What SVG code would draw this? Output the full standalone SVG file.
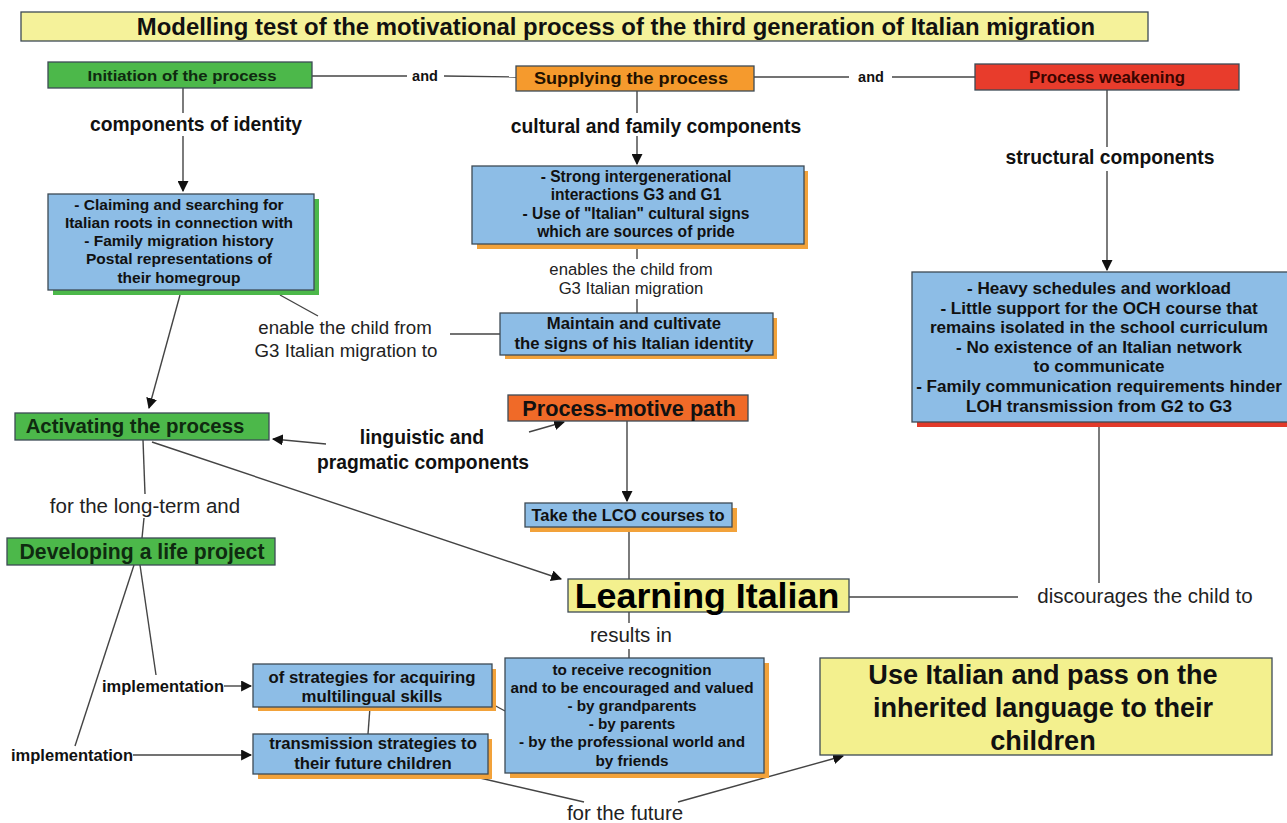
<svg xmlns="http://www.w3.org/2000/svg" width="1287" height="823" viewBox="0 0 1287 823">
<defs>
<marker id="ah" viewBox="0 0 10 10" refX="9" refY="5" markerWidth="11" markerHeight="11" markerUnits="userSpaceOnUse" orient="auto">
<path d="M0,0 L10,5 L0,10 z" fill="#111"/>
</marker>
<style>
text{font-family:"Liberation Sans",Arial,sans-serif;text-anchor:middle;fill:#111}
.b{font-weight:bold}
.box{stroke:#3d4a55;stroke-width:1.3}
.blue{fill:#8dbde6}
.green{fill:#4cb84a}
.yellow{fill:#f3f08e}
.shO{fill:#f2a23a}
.shG{fill:#4cb84a}
.shR{fill:#e23a2a}
.lbl{font-size:20.5px;fill:#222}
.blbl{font-size:19.3px;font-weight:bold}
.gt{font-weight:bold;fill:#0f2a10}
.conn line{stroke:#444;stroke-width:1.4;fill:none}
.arr{marker-end:url(#ah)}
</style>
</defs>
<rect width="1287" height="823" fill="#fff"/>

<g id="title">
<rect x="21" y="12" width="1127" height="29" fill="#f5f29a" class="box"/>
<text x="616" y="35" class="b" font-size="23.9">Modelling test of the motivational process of the third generation of Italian migration</text>
</g>

<g class="conn" id="connectors">
<line x1="312" y1="76" x2="407" y2="76"/>
<line x1="444" y1="76" x2="516" y2="77"/>
<line x1="754" y1="77" x2="849" y2="77"/>
<line x1="892" y1="77" x2="975" y2="77"/>
<line x1="183" y1="88" x2="183" y2="113"/>
<line x1="183" y1="136" x2="183" y2="191" class="arr"/>
<line x1="637" y1="91" x2="637" y2="113"/>
<line x1="637" y1="136" x2="637" y2="164" class="arr"/>
<line x1="1107" y1="90" x2="1107" y2="147"/>
<line x1="1107" y1="171" x2="1107" y2="270" class="arr"/>
<line x1="637" y1="244" x2="637" y2="259"/>
<line x1="637" y1="299" x2="637" y2="313"/>
<line x1="280" y1="295" x2="318" y2="316"/>
<line x1="450" y1="334" x2="500" y2="334"/>
<line x1="180" y1="295" x2="149" y2="408" class="arr"/>
<line x1="326" y1="444" x2="273" y2="439" class="arr"/>
<line x1="529" y1="432" x2="564" y2="422" class="arr"/>
<line x1="627" y1="421" x2="627" y2="501" class="arr"/>
<line x1="629" y1="526" x2="629" y2="579"/>
<line x1="152" y1="442" x2="561" y2="579" class="arr"/>
<line x1="143" y1="440" x2="145" y2="494"/>
<line x1="144" y1="518" x2="142" y2="538"/>
<line x1="1099" y1="427" x2="1099" y2="583"/>
<line x1="849" y1="597" x2="1018" y2="597"/>
<line x1="629" y1="612" x2="629" y2="623"/>
<line x1="629" y1="649" x2="629" y2="658"/>
<line x1="134" y1="565" x2="75" y2="746"/>
<line x1="140" y1="565" x2="156" y2="675"/>
<line x1="224" y1="686" x2="251" y2="686" class="arr"/>
<line x1="133" y1="755" x2="251" y2="755" class="arr"/>
<line x1="370" y1="707" x2="368" y2="734"/>
<line x1="492" y1="704" x2="505" y2="711"/>
<line x1="480" y1="778" x2="584" y2="802"/>
<line x1="678" y1="802" x2="843" y2="756" class="arr"/>
</g>

<g id="and1"><text x="425" y="81" class="b" font-size="14.5">and</text></g>
<g id="and2"><text x="871" y="82" class="b" font-size="14.5">and</text></g>

<g id="initiation">
<rect x="48" y="62" width="264" height="26" class="box green"/>
<text x="182" y="81" font-size="15.5" class="gt" textLength="189" lengthAdjust="spacingAndGlyphs">Initiation of the process</text>
</g>
<g id="supplying">
<rect x="516" y="66" width="238" height="25" class="box" fill="#f59a2d"/>
<text x="631" y="84" font-size="16" class="b" style="fill:#221100" textLength="194" lengthAdjust="spacingAndGlyphs">Supplying the process</text>
</g>
<g id="weakening">
<rect x="975" y="64" width="264" height="26" class="box" fill="#e83c2c"/>
<text x="1107" y="83" font-size="16" class="b" style="fill:#3a0500" textLength="156" lengthAdjust="spacingAndGlyphs">Process weakening</text>
</g>

<g id="lbl-identity"><text x="196" y="131" class="blbl">components of identity</text></g>
<g id="lbl-cultural"><text x="656" y="133" class="blbl">cultural and family components</text></g>
<g id="lbl-structural"><text x="1110" y="164" class="blbl">structural components</text></g>

<g id="claiming">
<rect x="53" y="199" width="266" height="96" class="shG"/>
<rect x="48" y="194" width="266" height="96" class="box blue"/>
<text class="b" font-size="15.5"><tspan x="179" y="210">- Claiming and searching for</tspan><tspan x="179" y="228">Italian roots in connection with</tspan><tspan x="179" y="246">- Family migration history</tspan><tspan x="179" y="264">Postal representations of</tspan><tspan x="179" y="283">their homegroup</tspan></text>
</g>

<g id="strong">
<rect x="477" y="171" width="331" height="78" class="shO"/>
<rect x="472" y="166" width="332" height="78" class="box blue"/>
<text class="b" font-size="15.6"><tspan x="636" y="182">- Strong intergenerational</tspan><tspan x="636" y="200">interactions G3 and G1</tspan><tspan x="636" y="219">- Use of "Italian" cultural signs</tspan><tspan x="636" y="237">which are sources of pride</tspan></text>
</g>

<g id="lbl-enables"><text class="lbl" style="font-size:16.7px"><tspan x="631" y="275">enables the child from</tspan><tspan x="631" y="294">G3 Italian migration</tspan></text></g>

<g id="maintain">
<rect x="505" y="318" width="272" height="41" class="shO"/>
<rect x="500" y="313" width="273" height="42" class="box blue"/>
<text class="b" font-size="16.7"><tspan x="634" y="329">Maintain and cultivate</tspan><tspan x="634" y="349">the signs of his Italian identity</tspan></text>
</g>

<g id="lbl-enable"><text class="lbl" style="font-size:18.7px"><tspan x="345" y="334">enable the child from</tspan><tspan x="346" y="357">G3 Italian migration to</tspan></text></g>

<g id="heavy">
<rect x="917" y="277" width="375" height="150" class="shR"/>
<rect x="912" y="272" width="376" height="150" class="box blue"/>
<text class="b" font-size="17.1"><tspan x="1099" y="294">- Heavy schedules and workload</tspan><tspan x="1099" y="314">- Little support for the OCH course that</tspan><tspan x="1099" y="333">remains isolated in the school curriculum</tspan><tspan x="1099" y="353">- No existence of an Italian network</tspan><tspan x="1099" y="372">to communicate</tspan><tspan x="1099" y="392">- Family communication requirements hinder</tspan><tspan x="1099" y="412">LOH transmission from G2 to G3</tspan></text>
</g>

<g id="activating">
<rect x="15" y="413" width="254" height="27" class="box green"/>
<text x="135" y="433" font-size="20.4" class="gt">Activating the process</text>
</g>

<g id="lbl-linguistic"><text class="blbl"><tspan x="422" y="444">linguistic and</tspan><tspan x="423" y="469">pragmatic components</tspan></text></g>

<g id="motive">
<rect x="508" y="395" width="240" height="26" class="box" fill="#f06a28"/>
<text x="629" y="416" font-size="21.7" class="b">Process-motive path</text>
</g>

<g id="lco">
<rect x="530" y="508" width="207" height="24" class="shO"/>
<rect x="525" y="503" width="207" height="24" class="box blue"/>
<text x="628" y="521" font-size="16.5" class="b">Take the LCO courses to</text>
</g>

<g id="lbl-longterm"><text x="145" y="513" class="lbl">for the long-term and</text></g>

<g id="developing">
<rect x="7" y="538" width="268" height="27" class="box green"/>
<text x="142" y="559" font-size="21.2" class="gt">Developing a life project</text>
</g>

<g id="learning">
<rect x="568" y="579" width="281" height="33" class="box yellow"/>
<text x="707" y="608" font-size="35.8" class="b" style="fill:#000">Learning Italian</text>
</g>

<g id="lbl-discourages"><text x="1145" y="603" class="lbl">discourages the child to</text></g>
<g id="lbl-results"><text x="631" y="642" class="lbl">results in</text></g>

<g id="lbl-impl1"><text x="163" y="692" font-size="16.5" class="b">implementation</text></g>
<g id="lbl-impl2"><text x="72" y="761" font-size="16.5" class="b">implementation</text></g>

<g id="acquiring">
<rect x="258" y="669" width="238" height="42" class="shO"/>
<rect x="253" y="664" width="239" height="43" class="box blue"/>
<text class="b" font-size="16.8"><tspan x="372" y="683">of strategies for acquiring</tspan><tspan x="372" y="702">multilingual skills</tspan></text>
</g>

<g id="transmission">
<rect x="258" y="739" width="234" height="40" class="shO"/>
<rect x="253" y="734" width="235" height="40" class="box blue"/>
<text class="b" font-size="16.7"><tspan x="373" y="749">transmission strategies to</tspan><tspan x="373" y="769">their future children</tspan></text>
</g>

<g id="recognition">
<rect x="510" y="663" width="259" height="115" class="shO"/>
<rect x="505" y="658" width="259" height="115" class="box blue"/>
<text class="b" font-size="15.3"><tspan x="632" y="675">to receive recognition</tspan><tspan x="632" y="693">and to be encouraged and valued</tspan><tspan x="632" y="711">- by grandparents</tspan><tspan x="632" y="729">- by parents</tspan><tspan x="632" y="747">- by the professional world and</tspan><tspan x="632" y="766">by friends</tspan></text>
</g>

<g id="lbl-future"><text x="625" y="820" class="lbl">for the future</text></g>

<g id="use">
<rect x="820" y="658" width="452" height="97" class="box yellow"/>
<text class="b" font-size="27.1"><tspan x="1043" y="684">Use Italian and pass on the</tspan><tspan x="1043" y="717">inherited language to their</tspan><tspan x="1043" y="750">children</tspan></text>
</g>
</svg>
